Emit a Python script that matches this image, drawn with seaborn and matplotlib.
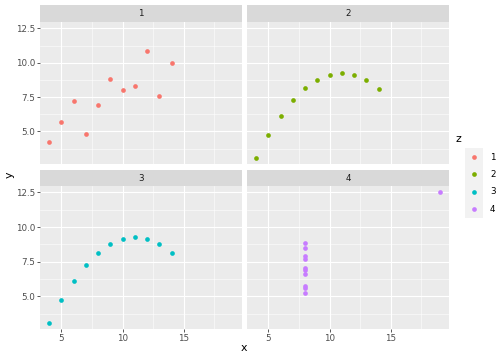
import numpy as np
import pandas as pd
import matplotlib
matplotlib.use("Agg")
import matplotlib.pyplot as plt
import seaborn as sns
from matplotlib.lines import Line2D

x123 = [10, 8, 13, 9, 11, 14, 6, 4, 12, 7, 5]
x4 = [8, 8, 8, 8, 8, 8, 8, 19, 8, 8, 8]
y1 = [8.04, 6.95, 7.58, 8.81, 8.33, 9.96, 7.24, 4.26, 10.84, 4.82, 5.68]
y2 = [9.14, 8.14, 8.74, 8.77, 9.26, 8.10, 6.13, 3.10, 9.13, 7.26, 4.74]
y3 = [9.14, 8.14, 8.74, 8.77, 9.26, 8.10, 6.13, 3.10, 9.13, 7.26, 4.74]
y4 = [6.58, 5.76, 7.71, 8.84, 8.47, 7.04, 5.25, 12.50, 5.56, 7.91, 6.89]
groups = ["1", "2", "3", "4"]
colors = ["#F8766D", "#7CAE00", "#00BFC4", "#C77CFF"]
xticks = [5, 10, 15]
yticks = [5.0, 7.5, 10.0, 12.5]

df = pd.concat([
    pd.DataFrame({"x": x123, "y": y1, "z": "1"}),
    pd.DataFrame({"x": x123, "y": y2, "z": "2"}),
    pd.DataFrame({"x": x123, "y": y3, "z": "3"}),
    pd.DataFrame({"x": x4, "y": y4, "z": "4"}),
])

W, H = 504, 360
fig = plt.figure(figsize=(7, 5), dpi=72)

def box(x0, y0, x1, y1_):
    return [x0 / W, 1 - y1_ / H, (x1 - x0) / W, (y1_ - y0) / H]

panels = {
    "1": (40, 22, 242, 164, 5),
    "2": (247, 22, 449, 164, 5),
    "3": (40, 186, 242, 329, 170),
    "4": (247, 186, 449, 329, 170),
}
xlim = (3.25, 19.75)
ylim = (2.63, 12.97)

for g, c in zip(groups, colors):
    x0, y0, x1, y1_, st = panels[g]
    ax = fig.add_axes(box(x0, y0, x1, y1_))
    ax.set_facecolor("#EBEBEB")
    for v in [7.5, 12.5, 17.5]:
        ax.axvline(v, color="white", lw=0.55, zorder=0)
    for v in [3.75, 6.25, 8.75, 11.25]:
        ax.axhline(v, color="white", lw=0.55, zorder=0)
    for v in xticks:
        ax.axvline(v, color="white", lw=1.1, zorder=0)
    for v in yticks:
        ax.axhline(v, color="white", lw=1.1, zorder=0)
    sns.scatterplot(data=df[df.z == g], x="x", y="y", color=c, s=22,
                    linewidth=0, ax=ax, legend=False, zorder=3)
    ax.set_xlim(*xlim)
    ax.set_ylim(*ylim)
    ax.set_xlabel("")
    ax.set_ylabel("")
    for s in ax.spines.values():
        s.set_visible(False)
    ax.set_xticks(xticks)
    ax.set_yticks(yticks)
    ax.tick_params(length=2.7, width=0.8, color="#333333", labelcolor="#4D4D4D",
                   labelsize=8.8, pad=2)
    if g in ("1", "3"):
        ax.set_yticklabels(["5.0", "7.5", "10.0", "12.5"])
    else:
        ax.tick_params(axis="y", left=False, labelleft=False)
    if g in ("3", "4"):
        ax.set_xticklabels([str(t) for t in xticks])
    else:
        ax.tick_params(axis="x", bottom=False, labelbottom=False)
    sax = fig.add_axes(box(x0, st, x1, y0))
    sax.set_facecolor("#D9D9D9")
    sax.set_xticks([]); sax.set_yticks([])
    for s in sax.spines.values():
        s.set_visible(False)
    sax.text(0.5, 0.5, g, ha="center", va="center", fontsize=8.8, color="#1A1A1A",
             transform=sax.transAxes)

fig.text(244 / W, 1 - 348 / H, "x", ha="center", va="center", fontsize=11)
fig.text(10 / W, 1 - 175 / H, "y", ha="center", va="center", fontsize=11, rotation=90)

# legend
fig.text(455 / W, 1 - 139 / H, "z", ha="left", va="center", fontsize=11)
lax = fig.add_axes(box(465, 148, 483, 218))
lax.set_xlim(0, 1); lax.set_ylim(218, 148)
lax.set_facecolor("#F2F2F2")
lax.set_xticks([]); lax.set_yticks([])
for s in lax.spines.values():
    s.set_visible(False)
for g, c, yy in zip(groups, colors, [157, 174, 192, 209]):
    lax.scatter([0.5], [yy], color=c, s=22, linewidth=0)
    fig.text(490 / W, 1 - yy / H, g, ha="left", va="center", fontsize=8.8, color="#000000")

fig.savefig("out.png", dpi=72)
